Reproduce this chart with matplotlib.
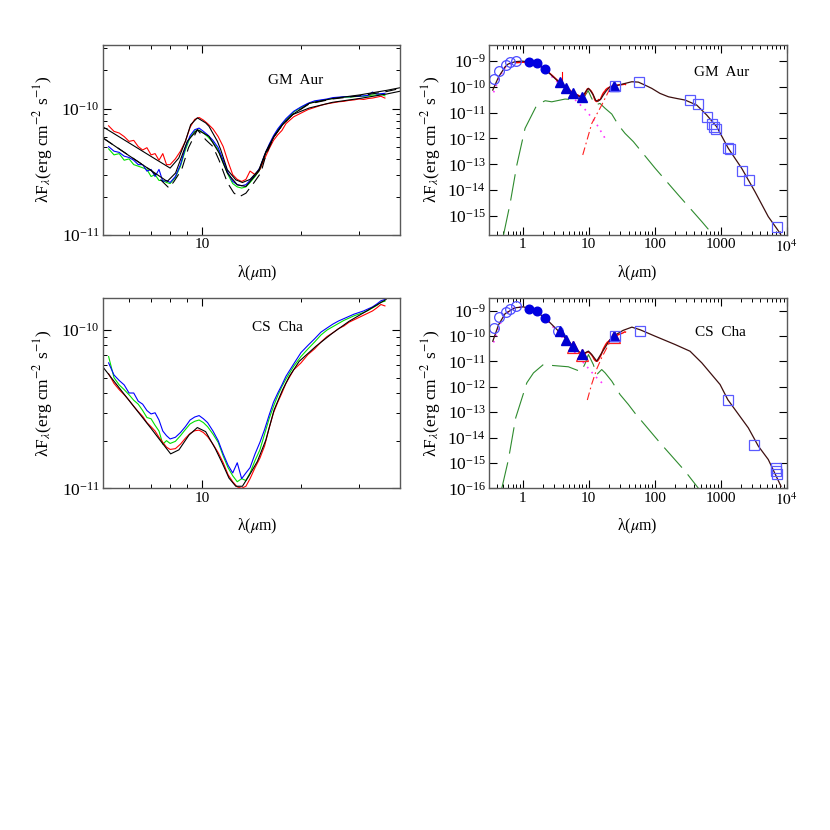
import matplotlib
matplotlib.use("Agg")
import numpy as np
import matplotlib.pyplot as plt
from matplotlib.ticker import NullFormatter, NullLocator, LogLocator, FixedLocator

plt.rcParams['font.family'] = ['Liberation Serif', 'DejaVu Serif']
plt.rcParams['mathtext.fontset'] = 'stix'
plt.rcParams['font.size'] = 11

# ---- IRS spectra (micron, flux in 1e-11 erg cm-2 s-1) ----
wl_irs = [5.2, 5.4, 5.6, 5.8, 6.0, 6.2, 6.4, 6.6, 6.8, 7.0, 7.2, 7.4, 7.6, 7.8, 8.0,
          8.3, 8.6, 8.9, 9.2, 9.5, 9.8, 10.1, 10.4,
          10.8, 11.2, 11.6, 12.0, 12.4, 12.8, 13.2, 13.6,
          14.0, 14.5, 15.0, 15.5, 16.0, 16.5, 17.0, 17.5, 18.0,
          19, 20, 21, 22, 23, 24, 25, 26, 27, 28, 29, 30, 31, 32, 33, 34, 35, 36]

gm_red = [7.3, 6.6, 6.4, 6.0, 5.5, 5.6, 5.0, 4.7, 4.9, 4.3, 4.4, 3.9, 4.4, 3.6, 3.6,
          4.0, 4.6, 5.5, 7.1, 8.2, 8.5, 8.1, 7.6,
          6.9, 6.0, 5.0, 3.8, 3.0, 2.75, 2.65, 2.75,
          3.2, 3.0, 3.3, 4.0, 4.8, 5.6, 6.2, 6.7, 7.6,
          8.6, 9.2, 9.8, 10.2, 10.6, 10.9, 11.1, 11.3, 11.4, 11.6, 11.7, 11.9, 11.8, 12.0, 12.1, 12.3, 12.5, 12.1]
gm_blue = [5.0, 4.6, 4.5, 4.2, 4.1, 3.9, 3.6, 3.6, 3.2, 3.3, 2.9, 3.3, 2.65, 2.7, 2.6,
           2.9, 3.6, 4.9, 6.1, 6.8, 7.0, 6.6, 6.2,
           5.6, 4.9, 3.9, 3.1, 2.65, 2.5, 2.45, 2.5,
           2.7, 3.0, 3.4, 4.3, 5.2, 6.1, 6.9, 7.6, 8.3,
           9.5, 10.3, 11.0, 11.5, 11.7, 11.9, 12.2, 12.3, 12.4, 12.4, 12.5, 12.5, 12.6, 12.7, 13.5, 13.0, 13.1, 13.2]
gm_green = [4.8, 4.3, 4.4, 3.9, 4.0, 3.6, 3.5, 3.4, 3.3, 2.9, 3.0, 2.7, 2.7, 2.6, 2.55,
            2.85, 3.5, 4.7, 5.9, 6.6, 6.75, 6.4, 6.0,
            5.4, 4.7, 3.7, 3.0, 2.55, 2.4, 2.35, 2.4,
            2.6, 2.9, 3.3, 4.2, 5.1, 6.0, 6.8, 7.5, 8.2,
            9.4, 10.2, 10.9, 11.3, 11.6, 11.8, 12.0, 12.2, 12.3, 12.3, 12.4, 12.5, 12.5, 12.6, 12.8, 12.8, 13.0, 12.6]

gm_mod1_wl = [5.0, 6.0, 7.0, 8.0, 8.5, 8.9, 9.24, 9.68, 10.26, 10.5, 11.14, 11.4, 11.94, 12.67, 13.27,
              14.0, 14.9, 15.65, 16.57, 17.58, 18.86, 21.2, 24.95, 30.1, 36.3, 40.0]
gm_mod1 = [7.16, 5.35, 4.18, 3.38, 4.06, 5.5, 7.46, 8.44, 7.7, 7.24, 5.5, 4.73, 3.28, 2.73, 2.6,
           2.75, 3.28, 4.58, 6.03, 7.46, 8.96, 10.1, 11.2, 12.0, 13.0, 13.7]
gm_mod2_wl = [5.0, 6.0, 7.0, 7.84, 8.31, 9.02, 9.68, 10.5, 11.27, 11.94, 12.81, 13.6,
              14.9, 15.65, 16.57, 17.58, 18.86, 21.2, 24.95, 30.1, 36.3, 40.0]
gm_mod2 = [5.85, 4.24, 3.24, 2.65, 3.09, 5.5, 6.8, 6.03, 4.45, 3.09, 2.49, 2.42,
           3.2, 4.5, 6.0, 7.46, 8.96, 11.0, 12.0, 12.8, 13.9, 14.6]
gm_mod3_wl = [5.0, 7.0, 7.94, 8.22, 8.67, 9.1, 9.68, 10.26, 10.8, 11.27, 11.94, 12.5, 12.96, 13.6,
              14.4, 15.1, 15.65, 16.57, 17.58, 18.86, 21.2, 24.95, 30.1, 36.3, 40.0]
gm_mod3 = [5.85, 3.24, 2.35, 2.65, 3.28, 4.9, 6.8, 5.67, 5.0, 3.9, 2.6, 2.15, 2.0, 2.14,
           2.6, 3.1, 4.3, 6.0, 7.46, 8.96, 10.9, 11.9, 12.6, 13.6, 14.4]

cs_red = [5.3, 4.6, 4.2, 3.9, 3.6, 3.3, 3.05, 2.85, 2.6, 2.45, 2.3, 2.1, 1.95, 1.82, 1.76,
          1.78, 1.9, 2.07, 2.22, 2.31, 2.33, 2.25, 2.12,
          1.9, 1.68, 1.45, 1.22, 1.1, 1.02, 1.0, 1.03,
          1.15, 1.35, 1.55, 1.85, 2.4, 3.0, 3.5, 4.0, 4.6,
          5.6, 6.2, 7.0, 7.6, 8.4, 9.1, 9.6, 10.2, 10.6, 11.2, 11.6, 12.0, 12.4, 12.8, 13.2, 13.8, 14.5, 14.2]
cs_green = [6.8, 5.0, 4.5, 4.2, 3.9, 3.6, 3.4, 3.1, 2.8, 2.75, 2.5, 2.3, 1.9, 2.0, 1.92,
            1.98, 2.15, 2.35, 2.55, 2.65, 2.7, 2.6, 2.45,
            2.2, 1.95, 1.6, 1.35, 1.2, 1.1, 1.15, 1.12,
            1.25, 1.5, 1.75, 2.2, 2.75, 3.3, 3.85, 4.4, 4.9,
            5.9, 6.8, 7.6, 8.4, 9.3, 10.0, 10.5, 11.0, 11.5, 11.9, 12.3, 12.6, 12.9, 13.3, 13.8, 14.3, 15.0, 15.2]
cs_blue = [6.2, 5.2, 4.8, 4.5, 4.0, 4.0, 3.55, 3.4, 3.1, 2.95, 3.0, 2.7, 2.3, 2.15, 2.05,
           2.1, 2.25, 2.45, 2.7, 2.82, 2.88, 2.75, 2.6,
           2.3, 2.0, 1.65, 1.4, 1.25, 1.45, 1.15, 1.25,
           1.35, 1.65, 1.95, 2.35, 2.9, 3.5, 4.0, 4.5, 5.1,
           6.1, 7.2, 8.0, 8.8, 9.7, 10.3, 10.9, 11.4, 11.8, 12.2, 12.6, 12.9, 13.2, 13.6, 14.0, 14.6, 15.3, 15.6]
cs_mod_wl = [5.0, 6.0, 7.0, 7.5, 8.03, 8.51, 9.13, 9.68, 10.26, 10.96, 11.53, 12.08, 12.67, 13.27,
             13.9, 14.74, 15.64, 16.57, 17.58, 18.43, 19.75, 22.2, 24.95, 28.0, 31.5, 36.3]
cs_mod = [5.83, 3.59, 2.39, 1.98, 1.65, 1.75, 2.17, 2.42, 2.28, 1.79, 1.44, 1.16, 1.03, 1.03,
          1.2, 1.48, 2.02, 3.13, 4.19, 5.09, 6.34, 7.89, 9.57, 11.35, 13.1, 15.6]

# ---- SEDs (micron, erg cm-2 s-1) ----
gm_opt_wl = [0.36, 0.44, 0.55, 0.64, 0.79]
gm_opt = [1.9e-10, 4.1e-10, 6.8e-10, 8.7e-10, 9.7e-10]
gm_jhk_wl = [1.25, 1.65, 2.2]
gm_jhk = [8.9e-10, 7.9e-10, 4.8e-10]
gm_irac_wl = [3.6, 4.5, 5.8, 8.0, 24.0]
gm_irac = [1.55e-10, 9.1e-11, 5.6e-11, 3.9e-11, 1.08e-10]
gm_mm_wl = [25, 58, 343, 448, 614, 746, 791, 840, 1303, 1368, 2080, 2684, 7050]
gm_mm = [1.1e-10, 1.47e-10, 3.0e-11, 2.1e-11, 6.9e-12, 3.6e-12, 2.8e-12, 2.4e-12,
         4.4e-13, 4.0e-13, 5.7e-14, 2.5e-14, 3.9e-16]
gm_nir_wl = [0.81, 1.0, 1.3, 1.7, 2.2, 2.8, 3.5, 4.4]
gm_nir = [8.4e-10, 8.8e-10, 8.7e-10, 7.2e-10, 4.6e-10, 2.7e-10, 1.6e-10, 9.5e-11]
gm_tot_wl = [0.35, 0.43, 0.54, 0.6, 0.76, 0.97, 1.2, 1.54, 2.18, 3.47, 4.4, 5.52, 7.83, 9.0, 9.87,
             10.6, 11.7, 12.8, 13.9, 15.2, 16.6, 18.5, 21, 28.1, 44.9, 56.4, 71, 90, 120, 161,
             215, 288, 432, 614, 869, 1303, 2080, 3311, 5260, 7910, 8600]
gm_tot = [7.4e-11, 2.4e-10, 5.9e-10, 7.5e-10, 9.2e-10, 9.7e-10, 9.2e-10, 7.9e-10, 4.66e-10, 1.55e-10,
          9.3e-11, 5.8e-11, 3.85e-11, 6.5e-11, 8.6e-11, 7.0e-11, 4.74e-11, 2.9e-11, 2.78e-11, 3.3e-11,
          4.74e-11, 7.0e-11, 9.9e-11, 1.15e-10, 1.55e-10, 1.5e-10, 1.15e-10, 8.6e-11, 5.5e-11, 4.07e-11,
          3.5e-11, 3.04e-11, 1.95e-11, 8.0e-12, 2.83e-12, 4.15e-13, 7.0e-14, 8.7e-15, 9.5e-16, 2.2e-16, 1.4e-16]
gm_star_wl = [0.36, 0.45, 0.55, 0.7, 0.9, 1.2, 1.6, 2.2, 3.3, 3.9, 5.5, 8.8, 12.5, 17.7]
gm_star = [6.0e-11, 2.6e-10, 5.8e-10, 8.6e-10, 9.3e-10, 8.6e-10, 7.2e-10, 4.3e-10, 1.55e-10,
           1.1e-10, 4.2e-11, 1.3e-11, 4.4e-12, 1.0e-12]
gm_wall_wl = [8.1, 11.1, 15.7, 21, 25]
gm_wall = [2.3e-13, 3.8e-12, 1.95e-11, 8.6e-11, 1.1e-10]
gm_thin_wl = [0.508, 0.642, 0.811, 1.08, 1.63, 2.18, 2.75, 4.37, 7.39, 7.83, 9.0, 9.8, 10.8, 12.5,
              14.8, 17.7, 22.3, 28.1, 35.4, 47.4, 101.5, 228, 517, 777]
gm_thin = [1.8e-16, 3.1e-15, 9.4e-14, 2.45e-12, 1.95e-11, 2.86e-11, 2.6e-11, 3.32e-11, 3.04e-11, 2.7e-11,
           5.0e-11, 7.0e-11, 4.0e-11, 1.95e-11, 2.25e-11, 1.45e-11, 8.75e-12, 3.3e-12, 1.57e-12, 7.5e-13,
           7.0e-14, 6.5e-15, 6.1e-16, 1.8e-16]

cs_opt_wl = [0.36, 0.44, 0.55, 0.64, 0.79, 3.4]
cs_opt = [2.08e-10, 5.65e-10, 8.65e-10, 1.17e-9, 1.49e-9, 1.6e-10]
cs_jhk_wl = [1.25, 1.65, 2.2]
cs_jhk = [1.17e-9, 9.5e-10, 5.15e-10]
cs_irac_wl = [3.6, 4.5, 5.8, 8.0, 24.0]
cs_irac = [1.55e-10, 7.2e-11, 4.0e-11, 2.0e-11, 9.8e-11]
cs_irac2_wl = [5.7, 8.0, 24.0]
cs_irac2 = [3.7e-11, 1.8e-11, 9.0e-11]
cs_mm_wl = [25, 60, 1277, 3230, 6900, 7000, 7100]
cs_mm = [1.0e-10, 1.55e-10, 2.97e-13, 5.3e-15, 6.4e-16, 4.75e-16, 3.5e-16]
cs_tot_wl = [0.35, 0.43, 0.54, 0.76, 1.02, 1.25, 1.54, 2.18, 3.47, 5.64, 7.83, 9.87, 11.1, 13.2,
             15.7, 21, 25, 33, 45, 60, 101, 203, 343, 517, 978, 1280, 2620, 3715, 5260, 8200]
cs_tot = [6.2e-11, 2.8e-10, 7.6e-10, 1.28e-9, 1.4e-9, 1.2e-9, 9.5e-10, 5.15e-10, 1.55e-10, 4.2e-11,
          1.85e-11, 2.52e-11, 1.85e-11, 1.02e-11, 2.16e-11, 7.2e-11, 1.07e-10, 1.65e-10, 2.22e-10, 1.75e-10,
          9.8e-11, 4.6e-11, 2.5e-11, 8.7e-12, 1.22e-12, 3.1e-13, 2.4e-14, 4.6e-15, 1.36e-15, 1.2e-16]
cs_star_wl = [0.36, 0.45, 0.55, 0.7, 0.9, 1.2, 1.6, 2.2, 3.3, 4.5, 5.6, 8.77, 12.5, 17.7]
cs_star = [5.5e-11, 2.9e-10, 7.4e-10, 1.2e-9, 1.35e-9, 1.2e-9, 9.3e-10, 5.0e-10, 1.5e-10,
           6.2e-11, 3.0e-11, 7.5e-12, 2.6e-12, 1.06e-12]
cs_wall_wl = [9.5, 11, 13.2, 15.7, 21, 25]
cs_wall = [3e-13, 1.2e-12, 5e-12, 1.4e-11, 6e-11, 9.5e-11]
cs_thin_wl = [0.48, 0.605, 0.78, 1.15, 1.45, 2.05, 2.75, 4.9, 7.64, 8.77, 9.87, 11.7, 13.2, 15.7,
              17.7, 22.3, 29.8, 39.8, 50.3, 120, 288, 459]
cs_thin = [1e-16, 1.36e-15, 6.0e-14, 1.43e-12, 3.5e-12, 7.5e-12, 6.9e-12, 6.1e-12, 3.9e-12, 8e-12,
           1.85e-11, 7.5e-12, 3.0e-12, 4.75e-12, 3.5e-12, 1.66e-12, 4.9e-13, 2.0e-13, 9e-14, 6.2e-15,
           4.75e-16, 1e-16]

YLAB = r'λF$_{\lambda}$(erg cm$^{-2}$ s$^{-1}$)'
XLAB = r'λ($\mu$m)'
MODEL = '#3d0f0f'


def frame(ax):
    ax.set_xscale('log')
    ax.set_yscale('log')
    ax.tick_params(which='both', direction='in', top=True, right=True, pad=2.5, labelsize=11)
    ax.tick_params(axis='y', labelsize=12.5)
    ax.tick_params(which='major', length=6, width=0.8)
    ax.tick_params(which='minor', length=3.2, width=0.7)
    for s in ax.spines.values():
        s.set_linewidth(1.0)
        s.set_color('0.35')


def spec_panel(ax, ylim, yminor, name, label_pos):
    frame(ax)
    ax.set_xlim(5.0, 40.0)
    ax.set_ylim(*ylim)
    ax.xaxis.set_major_locator(FixedLocator([10]))
    ax.xaxis.set_minor_locator(FixedLocator([6, 7, 8, 9, 20, 30]))
    ax.set_xticklabels(['10'])
    ax.xaxis.set_minor_formatter(NullFormatter())
    ax.yaxis.set_major_locator(FixedLocator([1e-11, 1e-10]))
    ax.yaxis.set_minor_locator(FixedLocator(yminor))
    ax.yaxis.set_minor_formatter(NullFormatter())
    ax.set_xlabel(XLAB, fontsize=11.5)
    ax.set_ylabel(YLAB, fontsize=12.5)
    ax.xaxis.set_label_coords(0.518, -0.15)
    ax.yaxis.set_label_coords(-0.16, 0.5)
    ax.text(label_pos[0], label_pos[1], name, transform=ax.transAxes,
            ha='center', va='center', fontsize=11)


def sed_panel(ax, ylim, name, label_pos):
    frame(ax)
    ax.set_xlim(0.31, 1e4)
    ax.set_ylim(*ylim)
    ax.xaxis.set_major_locator(FixedLocator([1, 10, 100, 1000, 1e4]))
    ax.set_xticklabels(['1', '10', '100', '1000', r'$10^4$'])
    ax.xaxis.set_minor_locator(LogLocator(base=10, subs=np.arange(2, 10), numticks=20))
    ax.xaxis.set_minor_formatter(NullFormatter())
    ax.yaxis.set_major_locator(LogLocator(base=10, numticks=20))
    ax.yaxis.set_minor_locator(NullLocator())
    ax.set_xlabel(XLAB, fontsize=11.5)
    ax.set_ylabel(YLAB, fontsize=12.5)
    ax.xaxis.set_label_coords(0.497, -0.15)
    ax.yaxis.set_label_coords(-0.156, 0.5)
    ax.text(label_pos[0], label_pos[1], name, transform=ax.transAxes,
            ha='center', va='center', fontsize=11)


fig = plt.figure(figsize=(8.3, 8.3), dpi=100)
ax1 = fig.add_axes([0.1241, 0.7169, 0.3578, 0.2293])
ax2 = fig.add_axes([0.5895, 0.7169, 0.3583, 0.2293])
ax3 = fig.add_axes([0.1241, 0.4117, 0.3578, 0.2296])
ax4 = fig.add_axes([0.5895, 0.4117, 0.3583, 0.2296])

u = 1e-11
wl = np.array(wl_irs)

# GM Aur spectrum
ax1.plot(wl, np.array(gm_green) * u, color='#00e000', lw=0.8)
ax1.plot(wl, np.array(gm_blue) * u, color='#0000ff', lw=0.8)
ax1.plot(wl, np.array(gm_red) * u, color='#ff0000', lw=0.8)
ax1.plot(gm_mod3_wl, np.array(gm_mod3) * u, color='black', lw=0.8, dashes=(10, 6))
ax1.plot(gm_mod2_wl, np.array(gm_mod2) * u, color='black', lw=0.8)
ax1.plot(gm_mod1_wl, np.array(gm_mod1) * u, color='black', lw=0.8)
spec_panel(ax1, (1e-11, 3.2e-10), [2e-11, 3e-11, 4e-11, 5e-11, 6e-11, 7e-11, 8e-11, 9e-11, 2e-10, 3e-10],
           'GM  Aur', (0.648, 0.814))

# CS Cha spectrum
ax3.plot(wl, np.array(cs_green) * u, color='#00e000', lw=0.8)
ax3.plot(wl, np.array(cs_blue) * u, color='#0000ff', lw=0.8)
ax3.plot(wl, np.array(cs_red) * u, color='#ff0000', lw=0.8)
ax3.plot(cs_mod_wl, np.array(cs_mod) * u, color='black', lw=0.8)
spec_panel(ax3, (1e-11, 1.6e-10), [2e-11, 3e-11, 4e-11, 5e-11, 6e-11, 7e-11, 8e-11, 9e-11],
           'CS  Cha', (0.588, 0.846))

# GM Aur SED
ax2.plot(gm_thin_wl, gm_thin, color='#2e8b2e', lw=0.8, dashes=(24, 8))
ax2.plot(gm_star_wl, gm_star, color='#ff33ff', lw=1.2, dashes=(1, 3))
ax2.plot(gm_wall_wl, gm_wall, color='#ff2020', lw=0.8, dashes=(7, 3, 1.5, 3))
ax2.plot(gm_nir_wl, gm_nir, color='#ff0000', lw=1.0)
ax2.plot(wl, np.array(gm_red) * u, color='#ff0000', lw=1.0)
ax2.plot([3.98, 3.98], [3.8e-10, 1.1e-10], color='#ff0000', lw=0.8)
ax2.plot(gm_tot_wl, gm_tot, color=MODEL, lw=0.9)
ax2.plot(gm_opt_wl, gm_opt, 'o', ms=7, mfc='none', mec='#4d4dff', mew=0.9)
ax2.plot(gm_jhk_wl, gm_jhk, 'o', ms=6.2, color='#0000e0')
ax2.plot(gm_irac_wl, gm_irac, '^', ms=7.5, color='#0000d0')
ax2.plot(gm_mm_wl, gm_mm, 's', ms=7, mfc='none', mec='#5a5aff', mew=0.9)
sed_panel(ax2, (1.86e-16, 4.2e-9), 'GM  Aur', (0.781, 0.853))

# CS Cha SED
ax4.plot(cs_thin_wl, cs_thin, color='#2e8b2e', lw=0.8, dashes=(24, 8))
ax4.plot(cs_star_wl, cs_star, color='#ff33ff', lw=1.2, dashes=(1, 3))
ax4.plot(cs_wall_wl, cs_wall, color='#ff2020', lw=0.8, dashes=(7, 3, 1.5, 3))
ax4.plot(wl, np.array(cs_red) * u, color='#ff0000', lw=1.0)
ax4.plot(cs_tot_wl, cs_tot, color=MODEL, lw=0.9)
ax4.plot(cs_irac2_wl, cs_irac2, '^', ms=8, mfc='none', mec='#ff2020', mew=0.9)
ax4.plot(cs_opt_wl, cs_opt, 'o', ms=7, mfc='none', mec='#4d4dff', mew=0.9)
ax4.plot(cs_jhk_wl, cs_jhk, 'o', ms=6.2, color='#0000e0')
ax4.plot(cs_irac_wl, cs_irac, '^', ms=7.5, color='#0000d0')
ax4.plot(cs_mm_wl, cs_mm, 's', ms=7, mfc='none', mec='#5a5aff', mew=0.9)
sed_panel(ax4, (1e-16, 3.2e-9), 'CS  Cha', (0.778, 0.820))

fig.savefig('out.png', dpi=100)
